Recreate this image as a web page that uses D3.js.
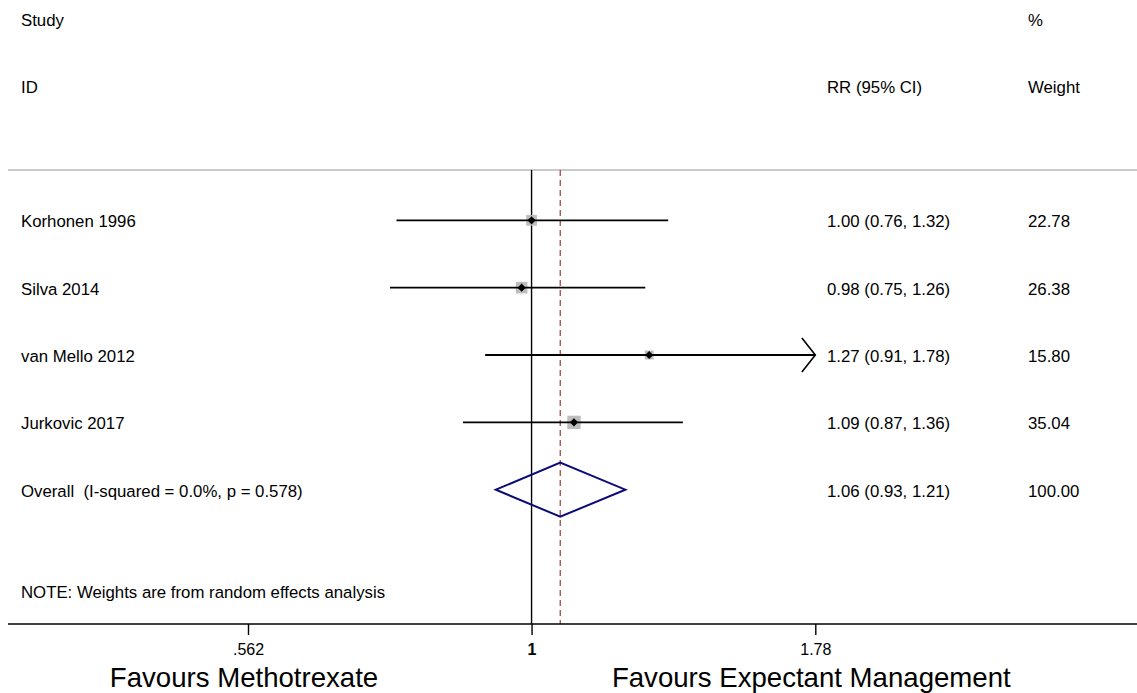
<!DOCTYPE html>
<html>
<head>
<meta charset="utf-8">
<script src="https://cdn.jsdelivr.net/npm/d3@7"></script>
<style>
  html, body { margin: 0; padding: 0; background: #fff; }
  #chart { width: 1137px; height: 693px; }
  text { font-family: "Liberation Sans", Arial, Helvetica, sans-serif; fill: #000; white-space: pre; }
</style>
</head>
<body>
<div id="chart"></div>
<script>
// Study rows
const studies = ["Korhonen 1996", "Silva 2014", "van Mello 2012", "Jurkovic 2017"];
const rr = [1.00, 0.98, 1.27, 1.09];
const lower = [0.76, 0.75, 0.91, 0.87];
const upper = [1.32, 1.26, 1.78, 1.36];
const weights = [22.78, 26.38, 15.80, 35.04];

// Pooled estimate
const overallLabel = "Overall  (I-squared = 0.0%, p = 0.578)";
const overallEst = [1.06, 0.93, 1.21];
const overallWeight = 100.00;

// Axis
const xTicks = [0.562, 1, 1.78];
const xTickLabels = [".562", "1", "1.78"];
const axisTitles = ["Favours Methotrexate", "Favours Expectant Management"];
const noteText = "NOTE: Weights are from random effects analysis";

function renderForest(containerSelector) {
    const container = d3.select(containerSelector);
    const width = container.node().clientWidth;
    const height = container.node().clientHeight;

    container.selectAll("*").remove();

    const svg = container.append("svg")
        .attr("width", width)
        .attr("height", height);

    const x = d3.scaleLog().domain([0.562, 1.78]).range([248, 815.3]);
    const y = d3.scaleLinear().domain([0, 4]).range([220.3, 489.7]);
    const box = d3.scaleSqrt().domain([0, 35.04]).range([0, 13.3]);

    const fs = 16.8;
    const colStudy = 21, colRR = 827, colW = 1028;
    const topY = 170, axisY = 624;
    const fmt = d3.format(".2f");

    // Header
    const header = svg.append("g").style("font-size", fs + "px");
    header.append("text").attr("x", colStudy).attr("y", 25.5).text("Study");
    header.append("text").attr("x", colStudy).attr("y", 93).text("ID");
    header.append("text").attr("x", colRR).attr("y", 93).text("RR (95% CI)");
    header.append("text").attr("x", colW).attr("y", 25.5).text("%");
    header.append("text").attr("x", colW).attr("y", 93).text("Weight");

    svg.append("line")
        .attr("x1", 8).attr("x2", width)
        .attr("y1", topY).attr("y2", topY)
        .attr("stroke", "#b8b8b8").attr("stroke-width", 1.5);

    // Null line and pooled-estimate line
    svg.append("line")
        .attr("x1", x(1)).attr("x2", x(1))
        .attr("y1", topY).attr("y2", axisY)
        .attr("stroke", "#000").attr("stroke-width", 1.4);

    svg.append("line")
        .attr("x1", x(overallEst[0])).attr("x2", x(overallEst[0]))
        .attr("y1", topY).attr("y2", axisY)
        .attr("stroke", "#9a3b3b").attr("stroke-width", 1.2)
        .attr("stroke-dasharray", "6,4");

    const rows = studies.map((s, i) => ({
        name: s, est: rr[i], lo: lower[i], hi: upper[i], w: weights[i], i: i
    }));
    const xMax = x.domain()[1];

    // Weight boxes
    svg.selectAll("rect.wbox")
        .data(rows)
        .join("rect")
        .attr("class", "wbox")
        .attr("x", d => x(d.est) - box(d.w) / 2)
        .attr("y", d => y(d.i) - box(d.w) / 2)
        .attr("width", d => box(d.w))
        .attr("height", d => box(d.w))
        .attr("fill", "#bdbdbd");

    // CI lines
    svg.selectAll("line.ci")
        .data(rows)
        .join("line")
        .attr("class", "ci")
        .attr("x1", d => x(d.lo))
        .attr("x2", d => x(Math.min(d.hi, xMax)))
        .attr("y1", d => y(d.i)).attr("y2", d => y(d.i))
        .attr("stroke", "#000").attr("stroke-width", 1.8);

    // Open arrowhead where the CI reaches the axis limit
    svg.selectAll("path.arrow")
        .data(rows.filter(d => d.hi >= xMax))
        .join("path")
        .attr("class", "arrow")
        .attr("d", d => {
            const tx = x(xMax), ty = y(d.i);
            return `M${tx - 13.4},${ty - 17}L${tx},${ty}L${tx - 13.4},${ty + 17}`;
        })
        .attr("fill", "none").attr("stroke", "#000").attr("stroke-width", 1.6);

    // Point estimates
    svg.selectAll("path.pt")
        .data(rows)
        .join("path")
        .attr("class", "pt")
        .attr("d", d3.symbol(d3.symbolSquare, 34))
        .attr("transform", d => `translate(${x(d.est)},${y(d.i)}) rotate(45)`)
        .attr("fill", "#000");

    // Text columns
    const txt = svg.append("g").style("font-size", fs + "px");
    rows.forEach(d => {
        txt.append("text").attr("x", colStudy).attr("y", y(d.i) + 7).text(d.name);
        txt.append("text").attr("x", colRR).attr("y", y(d.i) + 7)
            .text(`${fmt(d.est)} (${fmt(d.lo)}, ${fmt(d.hi)})`);
        txt.append("text").attr("x", colW).attr("y", y(d.i) + 7).text(fmt(d.w));
    });

    // Overall diamond
    const oy = y(4);
    svg.append("path")
        .attr("d", `M${x(overallEst[1])},${oy}L${x(overallEst[0])},${oy - 27}` +
            `L${x(overallEst[2])},${oy}L${x(overallEst[0])},${oy + 27}Z`)
        .attr("fill", "none")
        .attr("stroke", "#0a0a78").attr("stroke-width", 2);

    txt.append("text").attr("x", colStudy).attr("y", oy + 7).text(overallLabel);
    txt.append("text").attr("x", colRR).attr("y", oy + 7)
        .text(`${fmt(overallEst[0])} (${fmt(overallEst[1])}, ${fmt(overallEst[2])})`);
    txt.append("text").attr("x", colW).attr("y", oy + 7).text(fmt(overallWeight));

    txt.append("text").attr("x", colStudy).attr("y", y(5.5) + 7).text(noteText);

    // X axis
    svg.append("line")
        .attr("x1", 8).attr("x2", width)
        .attr("y1", axisY).attr("y2", axisY)
        .attr("stroke", "#000").attr("stroke-width", 1.6);

    const axis = svg.append("g")
        .attr("transform", `translate(0,${axisY})`)
        .call(d3.axisBottom(x)
            .tickValues(xTicks)
            .tickFormat((d, i) => xTickLabels[i])
            .tickSize(11)
            .tickPadding(9));
    axis.select(".domain").remove();
    axis.selectAll(".tick line").attr("stroke", "#000").attr("stroke-width", 1.4);
    axis.selectAll(".tick text")
        .style("font-family", "'Liberation Sans', Arial, sans-serif")
        .style("font-size", "16px")
        .style("font-weight", (d, i) => xTickLabels[i] === "1" ? "bold" : "normal")
        .attr("fill", "#000");

    // Axis titles centred under outer ticks
    svg.selectAll("text.atitle")
        .data(axisTitles)
        .join("text")
        .attr("class", "atitle")
        .attr("x", (d, i) => x(i === 0 ? xTicks[0] : xTicks[2]) - 4)
        .attr("y", 687)
        .attr("text-anchor", "middle")
        .style("font-size", "27.6px")
        .text(d => d);
}

renderForest("#chart");
</script>
</body>
</html>
